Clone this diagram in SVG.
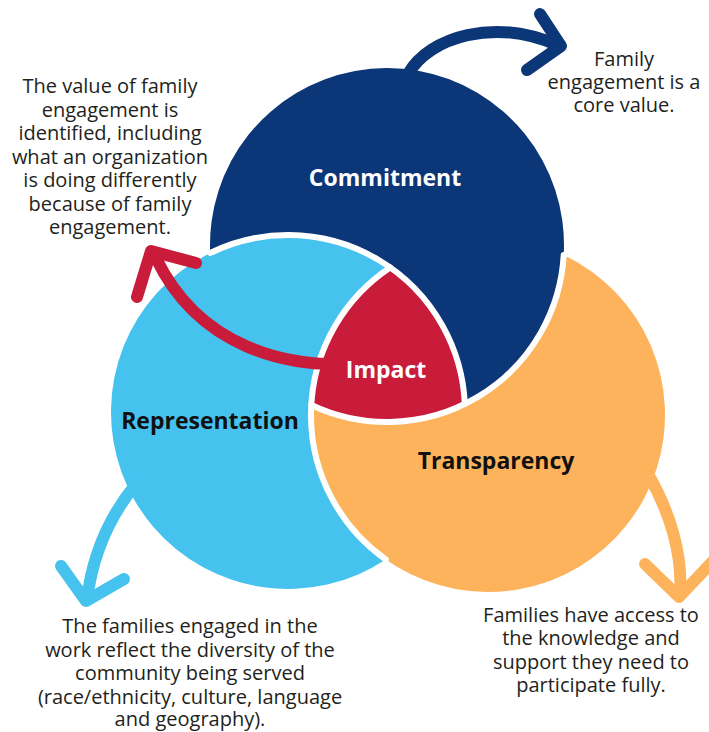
<svg xmlns="http://www.w3.org/2000/svg" width="709" height="732" viewBox="0 0 709 732">
<style>
.body{font-family:"Open Sans","Noto Sans","Liberation Sans",sans-serif;font-size:20px;fill:#231f20;text-anchor:middle}
.lbl{font-family:"Open Sans","Noto Sans","Liberation Sans",sans-serif;font-weight:700;font-size:23px;text-anchor:middle}
.sep{fill:none;stroke:#fff;stroke-width:6;stroke-linecap:round}
.arr{fill:none;stroke-width:12;stroke-linecap:round;stroke-linejoin:round}
</style>
<rect width="709" height="732" fill="#fff"/>
<g id="commitment">
<path d="M210.18 253.02 A177 177 0 1 1 464.82 403.98 A177 177 0 0 0 210.18 253.02 Z" fill="#0b3677"/>
<text class="lbl" x="385" y="186" fill="#fff">Commitment</text>
</g>
<g id="representation">
<path d="M390.19 267.48 A177 177 0 1 0 385.81 559.52 A177 177 0 0 1 390.19 267.48 Z" fill="#46c2ef"/>
<text class="lbl" x="210" y="429" fill="#111">Representation</text>
</g>
<g id="transparency">
<path d="M311.29 404.99 A177 177 0 1 0 563.71 255.01 A177 177 0 0 1 311.29 404.99 Z" fill="#fdb35b"/>
<text class="lbl" x="496" y="469" fill="#111">Transparency</text>
</g>
<g id="impact">
<path d="M390.19 267.48 A177 177 0 0 0 311.29 404.99 A177 177 0 0 0 464.82 403.98 A177 177 0 0 0 390.19 267.48 Z" fill="#c91b3a"/>
</g>
<g id="separators">
<path class="sep" d="M210.18 253.02 A177 177 0 0 1 464.82 403.98"/>
<path class="sep" d="M311.29 404.99 A177 177 0 0 0 563.71 255.01"/>
<path class="sep" d="M390.19 267.48 A177 177 0 0 0 385.81 559.52"/>
</g>
<g id="connectors">
<path class="arr" stroke="#0b3677" d="M408 74 C430 36 495 18 557 45"/>
<path class="arr" stroke="#0b3677" d="M540 14 L561 46 L527 70"/>
<path class="arr" stroke="#c91b3a" d="M345 364 C290 366 200 350 156 258"/>
<path class="arr" stroke="#c91b3a" d="M196 263 L151 251 L137 297"/>
<path class="arr" stroke="#46c2ef" d="M136 484 C108 518 92 558 87 600"/>
<path class="arr" stroke="#46c2ef" d="M61 566 L86 601 L124 579"/>
<path class="arr" stroke="#fdb35b" d="M648 474 C670 512 683 555 680 595"/>
<path class="arr" stroke="#fdb35b" d="M645 564 L679 597 L713 561"/>
</g>
<g id="impact-label">
<text class="lbl" x="386" y="378" fill="#fff">Impact</text>
</g>
<g id="notes">
<text class="body"><tspan x="624" y="66">Family</tspan><tspan x="624" y="89">engagement is a</tspan><tspan x="624" y="112">core value.</tspan></text>
<text class="body"><tspan x="110" y="93">The value of family</tspan><tspan x="110" y="116.5">engagement is</tspan><tspan x="110" y="140">identified, including</tspan><tspan x="110" y="163.5">what an organization</tspan><tspan x="110" y="187">is doing differently</tspan><tspan x="110" y="210.5">because of family</tspan><tspan x="110" y="234">engagement.</tspan></text>
<text class="body"><tspan x="190" y="633">The families engaged in the</tspan><tspan x="190" y="656.5">work reflect the diversity of the</tspan><tspan x="190" y="680">community being served</tspan><tspan x="190" y="703.5">(race/ethnicity, culture, language</tspan><tspan x="190" y="726">and geography).</tspan></text>
<text class="body"><tspan x="591" y="622">Families have access to</tspan><tspan x="591" y="645">the knowledge and</tspan><tspan x="591" y="669">support they need to</tspan><tspan x="591" y="692">participate fully.</tspan></text>
</g>
</svg>
